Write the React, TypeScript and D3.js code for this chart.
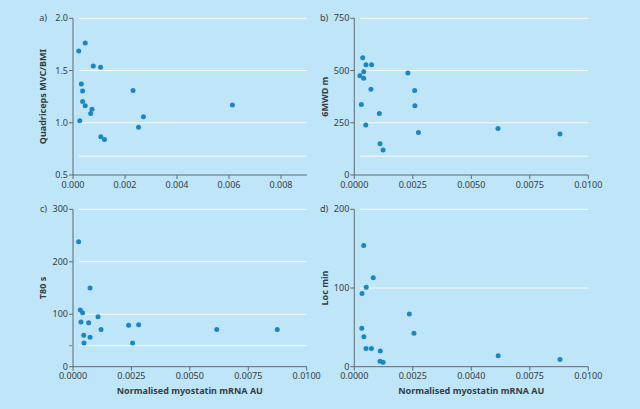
import React from "react";
import * as d3 from "d3";

// ---- data ----
const quadX = [0.00022, 0.00047, 0.00078, 0.00106, 0.00032, 0.00037, 0.00037, 0.00047, 0.00073, 0.00068, 0.00026, 0.00107, 0.00121, 0.00231, 0.00271, 0.00252, 0.00613];
const quadY = [1.687, 1.764, 1.544, 1.531, 1.372, 1.305, 1.204, 1.162, 1.13, 1.089, 1.019, 0.866, 0.841, 1.309, 1.057, 0.956, 1.169];

const mwdX = [0.00036, 0.0005, 0.00074, 0.0004, 0.00024, 0.0004, 0.00229, 0.00071, 0.00258, 0.0003, 0.00259, 0.00107, 0.00049, 0.00274, 0.00614, 0.00879, 0.0011, 0.00123];
const mwdY = [561, 528, 528, 494, 475, 463, 488, 410, 405, 337, 332, 294, 239, 203, 222, 196, 150, 120];

const t80X = [0.00024, 0.00073, 0.00031, 0.00041, 0.00034, 0.00067, 0.00107, 0.0012, 0.00046, 0.00073, 0.00047, 0.00238, 0.00281, 0.00255, 0.00615, 0.00874];
const t80Y = [238, 150, 108, 103, 85, 84, 95, 71, 60, 56, 45, 79, 80, 45, 71, 71];

const locX = [0.0004, 0.00081, 0.00051, 0.00033, 0.00235, 0.00255, 0.00032, 0.00041, 0.0005, 0.00073, 0.00111, 0.0011, 0.00123, 0.00615, 0.00879];
const locY = [154, 113, 101, 93, 67, 42.5, 49, 38, 23, 23, 20, 7, 5.6, 14, 9];

const xTicksA = [0, 0.002, 0.004, 0.006, 0.008];
const xTickLabelsA = ["0.000", "0.002", "0.004", "0.006", "0.008"];
const xTicksB = [0, 0.0025, 0.005, 0.0075, 0.01];
const xTickLabelsB = ["0.0000", "0.0025", "0.0050", "0.0075", "0.0100"];
const xTickLabelsD = ["0.0000", "0.0025", "0.0040", "0.0075", "0.0100"];

const yTicksA = [0.5, 1.0, 1.5, 2.0];
const yTickLabelsA = ["0.5", "1.0", "1.5", "2.0"];
const yTicksB = [0, 250, 500, 750];
const yTicksC = [0, 100, 200, 300];
const yTicksD = [0, 100, 200];

const panelLetters = ["a)", "b)", "c)", "d)"];
const yLabels = ["Quadriceps MVC/BMI", "6MWD m", "T80 s", "Loc min"];
const xLabel = "Normalised myostatin mRNA AU";
const extraGrid = [0.68, 90, 40, null];

const BG = "#bfe5f8";
const DOT = "#1a87c3";
const AXIS = "#5d6b73";
const TEXT = "#333d44";
const FONT = "'Noto Sans', 'Open Sans', sans-serif";

type PanelProps = {
  left: number; right: number; top: number; bottom: number;
  xDomain: [number, number]; yDomain: [number, number];
  xs: number[]; ys: number[];
  xTicks: number[]; xTickLabels: string[];
  yTicks: number[]; yTickLabels: string[];
  letter: string; yLabel: string; yLabelX: number; showXLabel: boolean;
  extra: number | null; extraTick: boolean;
};

function Panel(p: PanelProps) {
  const x = d3.scaleLinear().domain(p.xDomain).range([p.left, p.right]);
  const y = d3.scaleLinear().domain(p.yDomain).range([p.bottom, p.top]);
  const gridStart = p.left + 6;
  const gridVals = p.yTicks.filter((v) => v !== p.yDomain[0]);
  return (
    <g>
      {gridVals.map((v, i) => (
        <line key={"g" + i} x1={gridStart} x2={p.right} y1={y(v)} y2={y(v)} stroke="#ffffff" strokeWidth={1} opacity={0.9} />
      ))}
      {p.extra !== null && (
        <line x1={gridStart} x2={p.right} y1={y(p.extra)} y2={y(p.extra)} stroke="#ffffff" strokeWidth={1} opacity={0.9} />
      )}
      {p.extra !== null && p.extraTick && (
        <line x1={p.left - 4} x2={p.left - 1} y1={y(p.extra)} y2={y(p.extra)} stroke={AXIS} strokeWidth={0.8} />
      )}
      {/* axes */}
      <line x1={p.left} x2={p.left} y1={p.top} y2={p.bottom} stroke={AXIS} strokeWidth={1} />
      <line x1={p.left} x2={p.right} y1={p.bottom} y2={p.bottom} stroke={AXIS} strokeWidth={1} />
      {p.yTicks.map((v, i) => (
        <g key={"yt" + i}>
          <line x1={p.left - 4} x2={p.left} y1={y(v)} y2={y(v)} stroke={AXIS} strokeWidth={1} />
          <text x={p.left - 5} y={y(v)} dy="0.35em" textAnchor="end" fontSize={9} fill={TEXT} fontFamily={FONT}>
            {p.yTickLabels[i]}
          </text>
        </g>
      ))}
      {p.xTicks.map((v, i) => (
        <g key={"xt" + i}>
          <line x1={x(v)} x2={x(v)} y1={p.bottom} y2={p.bottom + 4} stroke={AXIS} strokeWidth={1} />
          <text x={x(v)} y={p.bottom + 12.5} textAnchor="middle" fontSize={9} fill={TEXT} fontFamily={FONT}>
            {p.xTickLabels[i]}
          </text>
        </g>
      ))}
      <text x={p.left - 26} y={p.top} dy="0.35em" textAnchor="end" fontSize={9} fill={TEXT} fontFamily={FONT}>
        {p.letter}
      </text>
      <text
        transform={`translate(${p.yLabelX},${(p.top + p.bottom) / 2}) rotate(-90)`}
        textAnchor="middle"
        dy="0.35em"
        fontSize={9}
        fontWeight="bold"
        fill={TEXT}
        fontFamily={FONT}
      >
        {p.yLabel}
      </text>
      {p.showXLabel && (
        <text x={(p.left + p.right) / 2} y={p.bottom + 27} textAnchor="middle" fontSize={9} fontWeight="bold" fill={TEXT} fontFamily={FONT}>
          {xLabel}
        </text>
      )}
      {p.xs.map((xv, i) => (
        <circle key={"p" + i} cx={x(xv)} cy={y(p.ys[i])} r={2.5} fill={DOT} />
      ))}
    </g>
  );
}

export default function App() {
  const fmt0 = (v: number) => String(v);
  return (
    <svg width={640} height={409} style={{ position: "absolute", left: 0, top: 0, display: "block" }}>
      <rect x={0} y={0} width={640} height={409} fill={BG} />
      <Panel left={73} right={307} top={18.3} bottom={175}
        xDomain={[0, 0.009]} yDomain={[0.5, 2.0]} xs={quadX} ys={quadY}
        xTicks={xTicksA} xTickLabels={xTickLabelsA} yTicks={yTicksA} yTickLabels={yTickLabelsA}
        letter={panelLetters[0]} yLabel={yLabels[0]} yLabelX={43} showXLabel={false} extra={extraGrid[0]} extraTick={false} />
      <Panel left={354.3} right={588.3} top={18.3} bottom={175}
        xDomain={[0, 0.01]} yDomain={[0, 750]} xs={mwdX} ys={mwdY}
        xTicks={xTicksB} xTickLabels={xTickLabelsB} yTicks={yTicksB} yTickLabels={yTicksB.map(fmt0)}
        letter={panelLetters[1]} yLabel={yLabels[1]} yLabelX={325} showXLabel={false} extra={extraGrid[1]} extraTick={false} />
      <Panel left={73} right={306.7} top={209.3} bottom={366.7}
        xDomain={[0, 0.01]} yDomain={[0, 300]} xs={t80X} ys={t80Y}
        xTicks={xTicksB} xTickLabels={xTickLabelsB} yTicks={yTicksC} yTickLabels={yTicksC.map(fmt0)}
        letter={panelLetters[2]} yLabel={yLabels[2]} yLabelX={43} showXLabel={true} extra={extraGrid[2]} extraTick={true} />
      <Panel left={354.3} right={588.3} top={209.3} bottom={366.7}
        xDomain={[0, 0.01]} yDomain={[0, 200]} xs={locX} ys={locY}
        xTicks={xTicksB} xTickLabels={xTickLabelsD} yTicks={yTicksD} yTickLabels={yTicksD.map(fmt0)}
        letter={panelLetters[3]} yLabel={yLabels[3]} yLabelX={325} showXLabel={true} extra={extraGrid[3]} extraTick={false} />
    </svg>
  );
}
